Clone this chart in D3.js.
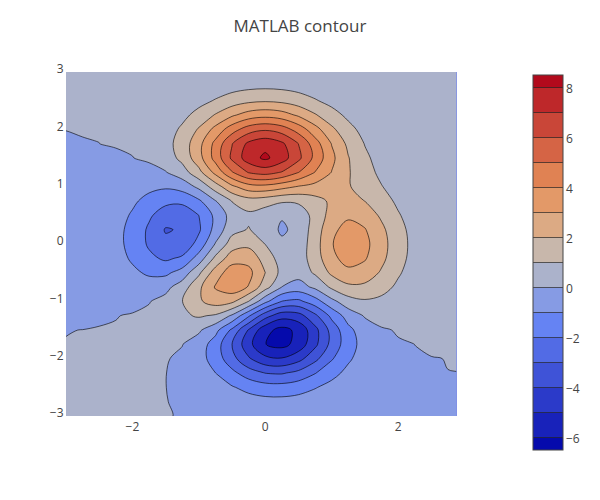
<!DOCTYPE html>
<html>
<head>
<meta charset="utf-8">
<script src="https://cdn.jsdelivr.net/npm/d3@7"></script>
<style>
body { margin: 0; background: #fff; }
text { font-family: "Open Sans", sans-serif; fill: #444; }
</style>
</head>
<body>
<div id="chart"></div>
<script>
// sample positions of the grid
var xs = [-3, -2.75, -2.5, -2.25, -2, -1.75, -1.5, -1.25, -1, -0.75, -0.5, -0.25, 0,
          0.25, 0.5, 0.75, 1, 1.25, 1.5, 1.75, 2, 2.25, 2.5, 2.75, 3];
var ys = [3, 2.75, 2.5, 2.25, 2, 1.75, 1.5, 1.25, 1, 0.75, 0.5, 0.25, 0,
          -0.25, -0.5, -0.75, -1, -1.25, -1.5, -1.75, -2, -2.25, -2.5, -2.75, -3];
// part of the grid that is shown
var xRange = [-3, 2.875];
var yRange = [-3, 3];

// z values, one row per y (top row y = 3)
var z = [
  [0.00004, 0.00016, 0.0006, 0.0019, 0.0055, 0.014, 0.032, 0.063, 0.11, 0.17, 0.23, 0.28, 0.30, 0.28, 0.23, 0.17, 0.11, 0.063, 0.032, 0.014, 0.0055, 0.0019, 0.0006, 0.00016, 0.00004],
  [0.0001, 0.0004, 0.0016, 0.005, 0.015, 0.037, 0.085, 0.17, 0.30, 0.47, 0.64, 0.77, 0.82, 0.77, 0.64, 0.47, 0.30, 0.17, 0.087, 0.039, 0.015, 0.005, 0.0016, 0.0004, 0.0001],
  [0.0002, 0.001, 0.003, 0.010, 0.032, 0.083, 0.19, 0.39, 0.69, 1.07, 1.47, 1.77, 1.88, 1.77, 1.47, 1.08, 0.70, 0.40, 0.21, 0.093, 0.037, 0.013, 0.004, 0.001, 0.0002],
  [0.0002, 0.0012, 0.005, 0.018, 0.057, 0.155, 0.36, 0.74, 1.32, 2.07, 2.84, 3.43, 3.65, 3.43, 2.84, 2.09, 1.36, 0.79, 0.41, 0.19, 0.076, 0.028, 0.009, 0.0026, 0.0007],
  [0.0001, 0.0008, 0.0053, 0.023, 0.080, 0.228, 0.55, 1.16, 2.10, 3.31, 4.56, 5.51, 5.86, 5.50, 4.57, 3.37, 2.21, 1.29, 0.68, 0.32, 0.133, 0.050, 0.017, 0.005, 0.0013],
  [-0.0009, -0.0007, -0.0004, 0.013, 0.070, 0.241, 0.646, 1.43, 2.67, 4.29, 5.96, 7.22, 7.68, 7.19, 5.99, 4.45, 2.96, 1.78, 0.96, 0.47, 0.199, 0.081, 0.029, 0.009, 0.0025],
  [-0.0031, -0.0085, -0.019, -0.029, -0.012, 0.11, 0.478, 1.28, 2.61, 4.37, 6.20, 7.54, 8.2, 7.48, 6.25, 4.72, 3.25, 2.05, 1.19, 0.62, 0.293, 0.124, 0.046, 0.015, 0.0044],
  [-0.0073, -0.022, -0.056, -0.118, -0.197, -0.225, -0.047, 0.547, 1.69, 3.29, 4.92, 6.07, 6.39, 5.94, 5.02, 3.97, 2.97, 2.09, 1.35, 0.79, 0.409, 0.186, 0.074, 0.025, 0.0076],
  [-0.014, -0.042, -0.112, -0.254, -0.481, -0.740, -0.864, -0.599, 0.229, 1.51, 2.79, 3.59, 3.69, 3.34, 2.93, 2.66, 2.43, 2.08, 1.58, 1.04, 0.58, 0.279, 0.115, 0.041, 0.013],
  [-0.022, -0.067, -0.180, -0.416, -0.815, -1.33, -1.76, -1.78, -1.16, -0.046, 1.04, 1.55, 1.42, 1.12, 1.17, 1.65, 2.17, 2.32, 1.99, 1.40, 0.82, 0.405, 0.169, 0.061, 0.019],
  [-0.029, -0.092, -0.247, -0.570, -1.12, -1.85, -2.49, -2.64, -2.00, -0.760, 0.390, 0.796, 0.464, 0.090, 0.375, 1.34, 2.38, 2.83, 2.56, 1.84, 1.09, 0.544, 0.229, 0.082, 0.025],
  [-0.035, -0.109, -0.292, -0.674, -1.32, -2.16, -3.08, -2.90, -2.15, -0.647, 0.682, 1.06, 0.523, -0.15, 0.279, 1.47, 2.76, 3.36, 3.06, 2.22, 1.32, 0.657, 0.277, 0.100, 0.031],
  [-0.037, -0.113, -0.301, -0.689, -1.33, -2.14, -2.77, -2.71, -1.65, 0.064, 1.48, 1.75, 0.981, 0.190, 0.374, 1.57, 2.94, 3.58, 3.27, 2.37, 1.41, 0.703, 0.297, 0.107, 0.033],
  [-0.033, -0.101, -0.267, -0.602, -1.14, -1.78, -2.16, -1.84, -0.566, 1.23, 2.56, 2.63, 1.59, 0.526, 0.476, 1.50, 2.76, 3.37, 3.09, 2.25, 1.34, 0.667, 0.282, 0.103, 0.031],
  [-0.026, -0.077, -0.200, -0.439, -0.799, -1.16, -1.21, -0.596, 0.797, 2.49, 3.55, 3.30, 2.00, 0.700, 0.390, 1.14, 2.20, 2.76, 2.56, 1.88, 1.12, 0.561, 0.237, 0.086, 0.027],
  [-0.017, -0.049, -0.122, -0.255, -0.423, -0.510, -0.281, 0.495, 1.78, 3.09, 3.63, 2.94, 1.40, -0.005, -0.413, 0.204, 1.18, 1.79, 1.78, 1.35, 0.820, 0.414, 0.176, 0.064, 0.020],
  [-0.0087, -0.024, -0.057, -0.103, -0.130, -0.043, 0.301, 0.984, 1.86, 2.45, 2.23, 0.996, -0.724, -2.02, -2.22, -1.43, -0.273, 0.581, 0.883, 0.769, 0.500, 0.261, 0.113, 0.042, 0.013],
  [-0.0033, -0.0081, -0.014, -0.012, 0.030, 0.167, 0.449, 0.836, 1.11, 0.883, -0.139, -1.85, -3.60, -4.60, -4.40, -3.22, -1.74, -0.556, 0.079, 0.266, 0.226, 0.132, 0.061, 0.023, 0.0074],
  [-0.0005, 0.0002, 0.005, 0.025, 0.079, 0.185, 0.327, 0.392, 0.148, -0.680, -2.19, -4.08, -5.68, -6.33, -5.76, -4.32, -2.64, -1.27, -0.440, -0.066, 0.043, 0.045, 0.025, 0.011, 0.0036],
  [0.0006, 0.003, 0.010, 0.030, 0.070, 0.127, 0.153, 0.022, -0.460, -1.48, -3.00, -4.70, -5.98, -6.33, -5.64, -4.24, -2.69, -1.42, -0.612, -0.205, -0.044, 0.0007, 0.0063, 0.0037, 0.0014],
  [0.0008, 0.0028, 0.009, 0.024, 0.047, 0.070, 0.046, -0.127, -0.590, -1.45, -2.64, -3.88, -4.76, -4.93, -4.35, -3.27, -2.10, -1.15, -0.529, -0.202, -0.062, -0.0135, -0.0012, 0.0006, 0.0004],
  [0.0006, 0.0019, 0.0058, 0.014, 0.028, 0.036, 0.0073, -0.123, -0.439, -0.994, -1.74, -2.51, -3.02, -3.10, -2.72, -2.05, -1.32, -0.734, -0.348, -0.139, -0.047, -0.0125, -0.0025, -0.0002, 0.00007],
  [0.0003, 0.0011, 0.0033, 0.0078, 0.015, 0.019, 0.0029, -0.066, -0.234, -0.526, -0.915, -1.31, -1.57, -1.60, -1.41, -1.06, -0.688, -0.384, -0.184, -0.075, -0.026, -0.0075, -0.0017, -0.0003, -0.00001],
  [0.00016, 0.0005, 0.0016, 0.0038, 0.0074, 0.010, 0.0046, -0.024, -0.096, -0.222, -0.391, -0.562, -0.678, -0.694, -0.610, -0.460, -0.299, -0.168, -0.085, -0.037, -0.012, -0.0034, -0.0008, -0.00015, -0.00001],
  [0.0001, 0.0002, 0.0006, 0.0017, 0.0034, 0.005, 0.004, -0.005, -0.030, -0.075, -0.137, -0.201, -0.245, -0.253, -0.223, -0.169, -0.110, -0.063, -0.032, -0.012, -0.0043, -0.0012, -0.0003, -0.00006, -0.00001]
];

// contour levels, start -6, end 8, size 1
var levels = [-6, -5, -4, -3, -2, -1, 0, 1, 2, 3, 4, 5, 6, 7, 8];
// RdBu colour scale
var colorStops = [0, 0.35, 0.5, 0.6, 0.7, 1];
var colorList = ["rgb(5,10,172)", "rgb(106,137,247)", "rgb(190,190,190)",
                 "rgb(220,170,132)", "rgb(230,145,90)", "rgb(178,10,28)"];
var xTicks = [-2, 0, 2];
var yTicks = [-3, -2, -1, 0, 1, 2, 3];
var cbTicks = [-6, -4, -2, 0, 2, 4, 6, 8];

var svg = d3.select("#chart").append("svg")
            .attr("width", 600)
            .attr("height", 500);

var x = d3.scaleLinear().domain([-3, 3]).range([66, 464.5]);
var y = d3.scaleLinear().domain([-3, 3]).range([416, 72]);

// d3.contours puts sample i at grid coordinate i + 0.5
var gx = d3.scaleLinear().domain([0.5, xs.length - 0.5]).range([xs[0], xs[xs.length - 1]]);
var gy = d3.scaleLinear().domain([0.5, ys.length - 0.5]).range([ys[0], ys[ys.length - 1]]);

var lo = levels[0] - 0.5, hi = levels[levels.length - 1] + 0.5;
var color = d3.scaleLinear()
              .domain(colorStops.map(function(s) { return lo + s * (hi - lo); }))
              .range(colorList);

// band [a, b] is painted with the colour of its middle, end bands use the ends
function bandColor(a, b) {
    if (a <= lo) return color(lo);
    if (b >= hi) return color(hi);
    return color((a + b) / 2);
}
function fmt(v) { return v < 0 ? "\u2212" + Math.abs(v) : String(v); }

var contours = d3.contours()
                 .size([xs.length, ys.length])
                 .thresholds(levels)(z.flat());

// smooth each ring a little, like plotly's contour smoothing
var ringLine = d3.line().curve(d3.curveCatmullRomClosed.alpha(0.5));
function contourPath(geo) {
    return geo.coordinates.map(function(polygon) {
        return polygon.map(function(ring) {
            return ringLine(ring.slice(0, -1).map(function(p) {
                return [x(gx(p[0])), y(gy(p[1]))];
            }));
        }).join("");
    }).join("");
}

var px0 = x(xRange[0]), px1 = x(xRange[1]), py0 = y(yRange[1]), py1 = y(yRange[0]);

svg.append("clipPath").attr("id", "plot-clip")
   .append("rect")
   .attr("x", px0).attr("y", py0)
   .attr("width", px1 - px0).attr("height", py1 - py0);

var plot = svg.append("g").attr("clip-path", "url(#plot-clip)");

plot.append("rect")
    .attr("x", px0).attr("y", py0)
    .attr("width", px1 - px0).attr("height", py1 - py0)
    .attr("fill", bandColor(lo, levels[0]));

plot.selectAll("path.band")
    .data(contours)
    .enter().append("path")
    .attr("class", "band")
    .attr("d", contourPath)
    .attr("fill", function(d, i) {
        var next = i < levels.length - 1 ? levels[i + 1] : hi;
        return bandColor(d.value, next);
    });

plot.selectAll("path.level")
    .data(contours)
    .enter().append("path")
    .attr("class", "level")
    .attr("d", contourPath)
    .attr("fill", "none")
    .attr("stroke", "#000")
    .attr("stroke-width", 0.6);

// axis labels (no lines, like the original)
svg.selectAll("text.xtick")
   .data(xTicks)
   .enter().append("text")
   .attr("class", "xtick")
   .attr("x", function(d) { return x(d); })
   .attr("y", 431)
   .attr("text-anchor", "middle")
   .style("font-size", "12px")
   .text(fmt);

svg.selectAll("text.ytick")
   .data(yTicks)
   .enter().append("text")
   .attr("class", "ytick")
   .attr("x", 63.5)
   .attr("y", function(d) { return y(d) - 3; })
   .attr("dy", "0.35em")
   .attr("text-anchor", "end")
   .style("font-size", "12px")
   .text(fmt);

svg.append("text")
   .attr("x", 300)
   .attr("y", 32)
   .attr("text-anchor", "middle")
   .style("font-size", "17px")
   .text("MATLAB contour");

// colour bar
var cb = d3.scaleLinear().domain([lo, hi]).range([450, 75]);
var edges = [lo].concat(levels, [hi]);
var cbg = svg.append("g");

cbg.selectAll("rect.cband")
   .data(d3.range(edges.length - 1))
   .enter().append("rect")
   .attr("class", "cband")
   .attr("x", 533)
   .attr("width", 30)
   .attr("y", function(i) { return cb(edges[i + 1]); })
   .attr("height", function(i) { return cb(edges[i]) - cb(edges[i + 1]); })
   .attr("fill", function(i) { return bandColor(edges[i], edges[i + 1]); });

cbg.selectAll("line.clevel")
   .data(levels)
   .enter().append("line")
   .attr("class", "clevel")
   .attr("x1", 533).attr("x2", 563)
   .attr("y1", function(d) { return cb(d); })
   .attr("y2", function(d) { return cb(d); })
   .attr("stroke", "#000")
   .attr("stroke-width", 0.6);

cbg.append("rect")
   .attr("x", 533).attr("y", cb(hi))
   .attr("width", 30).attr("height", cb(lo) - cb(hi))
   .attr("fill", "none")
   .attr("stroke", "#444")
   .attr("stroke-width", 1);

cbg.selectAll("text.cbtick")
   .data(cbTicks)
   .enter().append("text")
   .attr("class", "cbtick")
   .attr("x", 566)
   .attr("y", function(d) { return cb(d) + 1.5; })
   .attr("dy", "0.35em")
   .style("font-size", "12px")
   .text(fmt);
</script>
</body>
</html>
